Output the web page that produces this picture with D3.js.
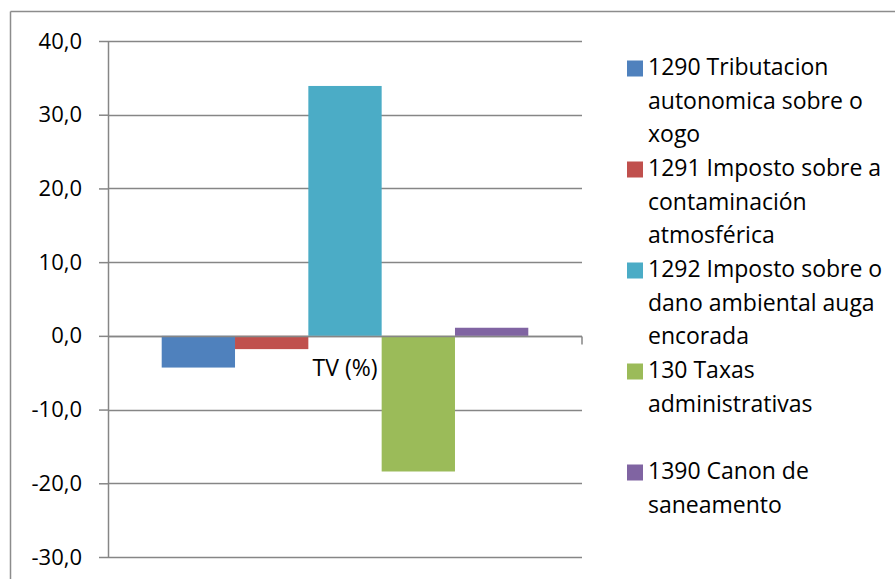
<!DOCTYPE html>
<html>
<head>
<meta charset="utf-8">
<script src="https://cdn.jsdelivr.net/npm/d3@7"></script>
<style>
  body { margin: 0; background: #fff; }
  svg { display: block; }
  text { font-family: "Open Sans", "Noto Sans", sans-serif; fill: #000; }
</style>
</head>
<body>
<svg id="chart" width="895" height="579"></svg>
<script>
// chart values
const categories = ["TV (%)"];
const seriesNames = [
  "1290 Tributacion autonomica sobre o xogo",
  "1291 Imposto sobre a contaminación atmosférica",
  "1292 Imposto sobre o dano ambiental auga encorada",
  "130 Taxas administrativas",
  "1390 Canon de saneamento"
];
const legendLines = [
  ["1290 Tributacion", "autonomica sobre o", "xogo"],
  ["1291 Imposto sobre a", "contaminación", "atmosférica"],
  ["1292 Imposto sobre o", "dano ambiental auga", "encorada"],
  ["130 Taxas", "administrativas", ""],
  ["1390 Canon de", "saneamento", ""]
];
const seriesValues = [-4.3, -1.8, 33.9, -18.4, 1.1];
const seriesColors = ["#4F81BD", "#C0504D", "#4BACC6", "#9BBB59", "#8064A2"];
const yTicks = [-30, -20, -10, 0, 10, 20, 30, 40];

const svg = d3.select("#chart");
const gridColor = "#868686";

// outer frame (top and left edge only visible)
svg.append("line").attr("x1", 10.5).attr("x2", 895).attr("y1", 11.5).attr("y2", 11.5)
  .attr("stroke", "#8c8c8c").attr("stroke-width", 1.5);
svg.append("line").attr("x1", 10.5).attr("x2", 10.5).attr("y1", 11.5).attr("y2", 579)
  .attr("stroke", "#8c8c8c").attr("stroke-width", 1.5);

const plot = { left: 108, right: 582, top: 41, bottom: 557 };

const y = d3.scaleLinear().domain([-30, 40]).range([plot.bottom, plot.top]);

const x0 = d3.scaleBand().domain(categories).range([plot.left, plot.right]).padding(0);
// gap width ~150% of a bar
const x1 = d3.scaleBand().domain(seriesNames)
  .range([x0(categories[0]) + 53.7, x0(categories[0]) + x0.bandwidth() - 53.7]);

// gridlines
svg.append("g").selectAll("line").data(yTicks).join("line")
  .attr("x1", plot.left).attr("x2", plot.right)
  .attr("y1", d => Math.round(y(d)) + 0.5).attr("y2", d => Math.round(y(d)) + 0.5)
  .attr("stroke", gridColor).attr("stroke-width", 1.5);

// y axis
const yAxis = d3.axisLeft(y).tickValues(yTicks).tickSize(9).tickPadding(17)
  .tickFormat(d => d3.format(".1f")(d).replace(".", ",").replace("\u2212", "-"));
const gy = svg.append("g").attr("transform", `translate(${plot.left},0)`).call(yAxis);
gy.select(".domain").attr("stroke", gridColor).attr("stroke-width", 1.5)
  .attr("d", `M0.5,${plot.top}V${plot.bottom}`);
gy.selectAll(".tick line").attr("stroke", gridColor).attr("stroke-width", 1.5);
gy.selectAll(".tick text").attr("font-size", "22px").attr("font-family", "Open Sans")
  .attr("fill", "#000");

// bars
svg.append("g").selectAll("rect").data(seriesValues).join("rect")
  .attr("x", (d, i) => x1(seriesNames[i]))
  .attr("width", x1.bandwidth())
  .attr("y", d => y(Math.max(0, d)))
  .attr("height", d => Math.abs(y(d) - y(0)))
  .attr("fill", (d, i) => seriesColors[i]);

// horizontal axis at zero
const y0 = Math.round(y(0)) + 0.5;
svg.append("line").attr("x1", plot.left).attr("x2", plot.right).attr("y1", y0).attr("y2", y0)
  .attr("stroke", gridColor).attr("stroke-width", 1.5);
svg.append("line").attr("x1", plot.right).attr("x2", plot.right).attr("y1", y0).attr("y2", y0 + 8)
  .attr("stroke", gridColor).attr("stroke-width", 1.5);

// category label
svg.append("text")
  .attr("x", x0(categories[0]) + x0.bandwidth() / 2)
  .attr("y", 376)
  .attr("text-anchor", "middle")
  .attr("font-size", "23px")
  .text(categories[0]);

// legend
const legend = svg.append("g");
const lineH = 33.7;
const entryH = 101;
legendLines.forEach((lines, i) => {
  const base = 75 + i * entryH;
  legend.append("rect").attr("x", 627).attr("y", base - 14.5).attr("width", 16).attr("height", 16)
    .attr("fill", seriesColors[i]);
  lines.forEach((t, j) => {
    if (!t) return;
    legend.append("text").attr("x", 648).attr("y", base + j * lineH)
      .attr("font-size", "23px").text(t);
  });
});
</script>
</body>
</html>
